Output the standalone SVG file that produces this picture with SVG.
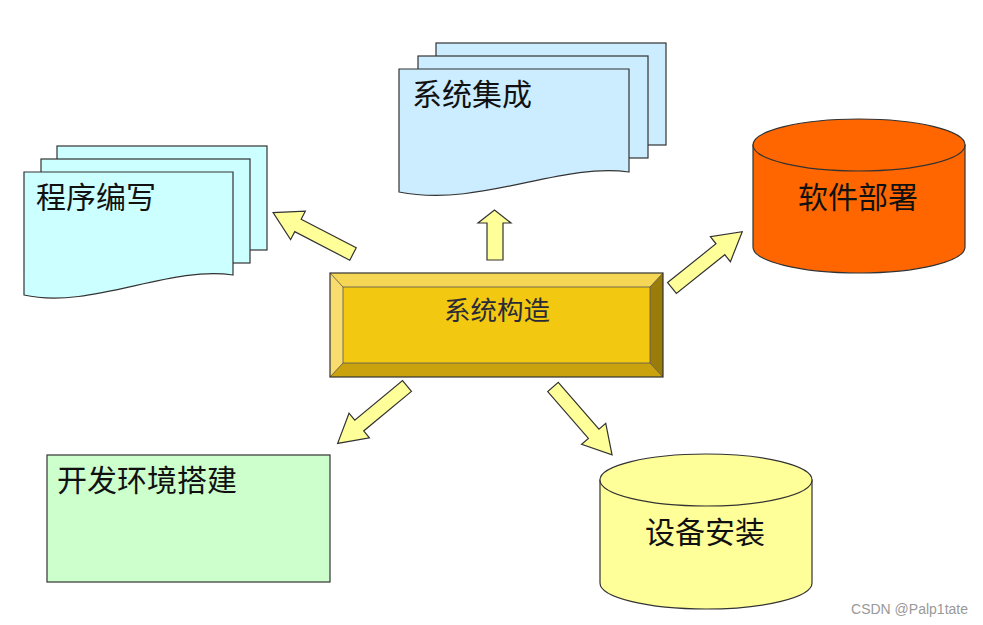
<svg xmlns="http://www.w3.org/2000/svg" width="983" height="625" viewBox="0 0 983 625">
<style>
.t{font-family:"Liberation Sans","Noto Sans CJK SC",sans-serif;fill:#111;}
.ln{stroke:#333;stroke-width:1.2;}
.arr{fill:#FFFF99;stroke:#333;stroke-width:1.2;stroke-linejoin:miter;}
</style>
<defs>
<polygon id="darr" points="0,-7 62,-7 62,-16 90,0 62,16 62,7 0,7"/>
</defs>
<rect width="983" height="625" fill="#fff"/>

<g id="chengxu">
<rect x="57" y="146" width="210" height="104" fill="#CCFFFF" class="ln"/>
<rect x="41" y="159" width="209" height="104" fill="#CCFFFF" class="ln"/>
<path d="M24,172 H233 V275 C170,265 90,310 24,295 Z" fill="#CCFFFF" class="ln"/>
<text x="36" y="208" font-size="30" class="t">程序编写</text>
</g>

<g id="jicheng">
<rect x="436" y="43" width="230" height="102" fill="#CCECFF" class="ln"/>
<rect x="418" y="56" width="230" height="102" fill="#CCECFF" class="ln"/>
<path d="M399,69 H629 V172 C560,162 480,208 399,192 Z" fill="#CCECFF" class="ln"/>
<text x="412" y="105" font-size="30" class="t">系统集成</text>
</g>

<g id="bushu">
<path d="M753,145 V247 A106,26 0 0 0 965,247 V145 Z" fill="#FF6600" class="ln"/>
<ellipse cx="859" cy="145" rx="106" ry="26" fill="#FF6600" class="ln"/>
<text x="858" y="208" font-size="30" text-anchor="middle" class="t">软件部署</text>
</g>

<g id="goujian">
<rect x="330" y="273" width="333" height="104" fill="#F2C811"/>
<polygon points="330,273 663,273 650,287 343,287" fill="#F6D655"/>
<polygon points="330,273 343,287 343,363 330,377" fill="#F8DC70"/>
<polygon points="330,377 343,363 650,363 663,377" fill="#C9A20E"/>
<polygon points="663,273 650,287 650,363 663,377" fill="#9A7C0A"/>
<rect x="343" y="287" width="307" height="76" fill="#F2C811" stroke="#555" stroke-width="0.8"/>
<line x1="330" y1="273" x2="343" y2="287" stroke="#555" stroke-width="0.8"/>
<line x1="663" y1="273" x2="650" y2="287" stroke="#555" stroke-width="0.8"/>
<line x1="330" y1="377" x2="343" y2="363" stroke="#555" stroke-width="0.8"/>
<line x1="663" y1="377" x2="650" y2="363" stroke="#555" stroke-width="0.8"/>
<rect x="330" y="273" width="333" height="104" fill="none" class="ln"/>
<text x="497" y="320" font-size="26.5" text-anchor="middle" class="t" style="fill:#2b2b38">系统构造</text>
</g>

<g id="kaifa">
<rect x="47" y="455" width="283" height="127" fill="#CCFFCC" class="ln"/>
<text x="57" y="491" font-size="30" class="t">开发环境搭建</text>
</g>

<g id="anzhuang">
<path d="M600,480 V583 A106,26 0 0 0 812,583 V480 Z" fill="#FFFF99" class="ln"/>
<ellipse cx="706" cy="480" rx="106" ry="26" fill="#FFFF99" class="ln"/>
<text x="705" y="543" font-size="30" text-anchor="middle" class="t">设备安装</text>
</g>

<g id="connectors">
<polygon class="arr" points="487,260 487,223 478,223 494.5,210 511,223 503,223 503,260"/>
<use href="#darr" class="arr" transform="translate(353,254) rotate(-152.6)"/>
<use href="#darr" class="arr" transform="translate(672,288) rotate(-38.7)"/>
<use href="#darr" class="arr" transform="translate(407,386) rotate(140.4)"/>
<use href="#darr" class="arr" transform="translate(553,387) rotate(49)"/>
</g>

<text x="968" y="614" font-size="14" text-anchor="end" font-family="Liberation Sans, sans-serif" fill="#999">CSDN @Palp1tate</text>
</svg>
